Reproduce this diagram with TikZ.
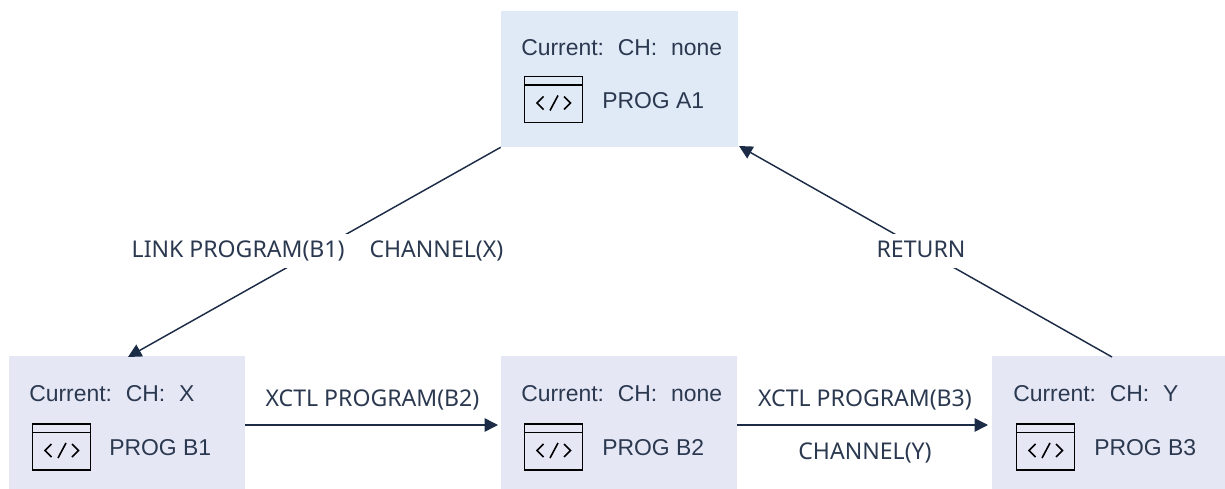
\documentclass[tikz,border=0pt]{standalone}
\usepackage{fontspec}
\setmainfont{Noto Sans}
\newfontfamily\boxfont{Liberation Sans}
\usetikzlibrary{arrows.meta}
\definecolor{boxa}{HTML}{E0E9F6}
\definecolor{boxb}{HTML}{E5E7F5}
\definecolor{ink}{HTML}{1C2C46}
\definecolor{txt}{HTML}{2B3950}
\newcommand{\sep}{\hspace{0.6em}}
\tikzset{
  x=0.75pt,y=-0.75pt,
  abox/.style={fill=boxa,draw=none,inner sep=0pt,minimum width=177.75pt,minimum height=102pt},
  bbox/.style={fill=boxb,draw=none,inner sep=0pt,minimum width=177pt,minimum height=99.75pt},
  lbl/.style={text=txt,font=\fontsize{17.3}{20}\selectfont,inner sep=0pt},
  inbox/.style={text=txt,font=\boxfont\fontsize{17.2}{20}\selectfont,inner sep=0pt,anchor=west},
  gaplbl/.style={lbl,fill=white,inner xsep=1pt,inner ysep=0pt,text height=17.6pt,text depth=8pt},
  flow/.style={draw=ink,line width=1.1pt,-{Triangle[length=10pt,width=10pt]}},
  icon/.pic={
    \draw[black,line width=1.1pt] (0,0) rectangle (58,46);
    \draw[black,line width=1.1pt] (0,8.5) -- (58,8.5);
    \draw[black,line width=1.2pt] (19,20) -- (12.5,26.5) -- (19,33);
    \draw[black,line width=1.2pt] (33.5,19) -- (25.5,34);
    \draw[black,line width=1.2pt] (39.5,20) -- (46,26.5) -- (39.5,33);
  }
}
\begin{document}
\begin{tikzpicture}
\useasboundingbox (0,0) rectangle (1225,489);
\node[abox] (a) at (619.5,79) {};
\node[bbox] (b1) at (127,422.5) {};
\node[bbox] (b2) at (618.5,422.5) {};
\node[bbox,minimum width=174.75pt] (b3) at (1108.5,422.5) {};
% free ends on the box edges
\coordinate (b1in) at (128,357);
\coordinate (b3out) at (1112,357);
\coordinate (aret) at (739,146);
\coordinate (b1out) at (245,425);
\coordinate (b2in) at (498,425);
\coordinate (b2out) at (737,425);
\coordinate (b3in) at (988,425);
% connectors
\draw[flow] (a.south west) -- (b1in);
\draw[flow] (b3out) -- (aret);
\draw[flow] (b1out) -- (b2in);
\draw[flow] (b2out) -- (b3in);
% texts
\node[inbox] (ta) at (521,47.5) {Current:\sep CH:\sep none};
\node[inbox] (na) at (602,100.5) {PROG A1};
\node[inbox] (t1) at (29,394) {Current:\sep CH:\sep X};
\node[inbox] (n1) at (109,447.5) {PROG B1};
\node[inbox] (t2) at (521,394) {Current:\sep CH:\sep none};
\node[inbox] (n2) at (602,447.5) {PROG B2};
\node[inbox] (t3) at (1013,394) {Current:\sep CH:\sep Y};
\node[inbox] (n3) at (1094,447.5) {PROG B3};
\pic at (524.5,76.5) {icon};
\pic at (32.5,424) {icon};
\pic at (524.5,424) {icon};
\pic at (1016.5,424) {icon};
\node[gaplbl] (l1) at (317.5,251) {LINK PROGRAM(B1)\hspace{18.75pt}CHANNEL(X)};
\node[gaplbl] (l2) at (921,251) {RETURN};
\node[lbl] (l3) at (372.5,399.5) {XCTL PROGRAM(B2)};
\node[lbl] (l4) at (865,399.5) {XCTL PROGRAM(B3)};
\node[lbl] (l5) at (865,453) {CHANNEL(Y)};
\end{tikzpicture}
\end{document}
